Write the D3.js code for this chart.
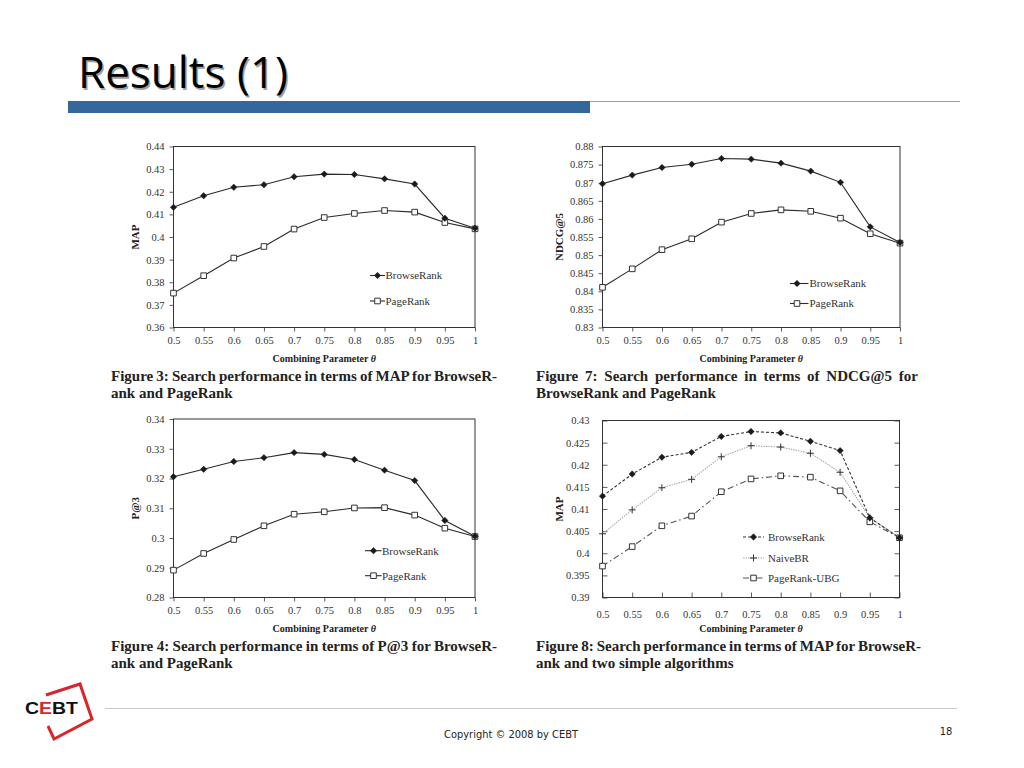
<!DOCTYPE html>
<html><head><meta charset="utf-8">
<script src="https://cdn.jsdelivr.net/npm/d3@7"></script>
<style>body{margin:0;background:#fff;} svg{display:block}</style>
</head><body><svg id="slide" width="1024" height="768"></svg>
<script>
// ---------- data ----------
const thetas = [0.5,0.55,0.6,0.65,0.7,0.75,0.8,0.85,0.9,0.95,1];
const thetaLabels = ["0.5","0.55","0.6","0.65","0.7","0.75","0.8","0.85","0.9","0.95","1"];

const fig3BrowseRank = [0.4131,0.4182,0.4220,0.4231,0.4266,0.4278,0.4276,0.4257,0.4234,0.4083,0.4039];
const fig3PageRank   = [0.3752,0.3829,0.3907,0.3958,0.4035,0.4086,0.4104,0.4117,0.4110,0.4064,0.4036];
const fig3YTicks  = [0.36,0.37,0.38,0.39,0.40,0.41,0.42,0.43,0.44];
const fig3YLabels = ["0.36","0.37","0.38","0.39","0.4","0.41","0.42","0.43","0.44"];

const fig7BrowseRank = [0.8697,0.8721,0.8742,0.8751,0.8767,0.8765,0.8754,0.8732,0.8701,0.8578,0.8535];
const fig7PageRank   = [0.8411,0.8462,0.8515,0.8545,0.8591,0.8615,0.8625,0.8621,0.8602,0.8559,0.8533];
const fig7YTicks  = [0.83,0.835,0.84,0.845,0.85,0.855,0.86,0.865,0.87,0.875,0.88];
const fig7YLabels = ["0.83","0.835","0.84","0.845","0.85","0.855","0.86","0.865","0.87","0.875","0.88"];

const fig4BrowseRank = [0.3206,0.3231,0.3257,0.3270,0.3287,0.3281,0.3264,0.3228,0.3193,0.3059,0.3006];
const fig4PageRank   = [0.2892,0.2948,0.2995,0.3041,0.3080,0.3088,0.3101,0.3102,0.3077,0.3033,0.3005];
const fig4YTicks  = [0.28,0.29,0.30,0.31,0.32,0.33,0.34];
const fig4YLabels = ["0.28","0.29","0.3","0.31","0.32","0.33","0.34"];

const fig8BrowseRank   = [0.4129,0.4179,0.4217,0.4228,0.4264,0.4275,0.4272,0.4253,0.4232,0.4080,0.4035];
const fig8NaiveBR      = [0.4044,0.4098,0.4148,0.4167,0.4218,0.4243,0.4240,0.4226,0.4183,0.4080,0.4035];
const fig8PageRankUBG  = [0.3971,0.4015,0.4062,0.4084,0.4139,0.4168,0.4175,0.4172,0.4141,0.4071,0.4035];
const fig8YTicks  = [0.39,0.395,0.40,0.405,0.41,0.415,0.42,0.425,0.43];
const fig8YLabels = ["0.39","0.395","0.4","0.405","0.41","0.415","0.42","0.425","0.43"];

const xAxisTitle = "Combining Parameter ";
const fig3Caption = ["Figure 3: Search performance in terms of MAP for BrowseR-","ank and PageRank"];
const fig7Caption = ["Figure 7:  Search performance in terms of NDCG@5 for","BrowseRank and PageRank"];
const fig4Caption = ["Figure 4: Search performance in terms of P@3 for BrowseR-","ank and PageRank"];
const fig8Caption = ["Figure 8: Search performance in terms of MAP for BrowseR-","ank and two simple algorithms"];

// ---------- drawing ----------
const svg = d3.select("#slide");
svg.append("rect").attr("width",1024).attr("height",768).attr("fill","#fff");

// Title
const titleFont = "'Liberation Sans Narrow','Open Sans',sans-serif";
svg.append("text").attr("x",79.5).attr("y",89.5).attr("fill","#a0a0a0")
  .attr("font-family",titleFont).attr("font-size",43)
  .attr("textLength",210).attr("lengthAdjust","spacingAndGlyphs").text("Results (1)");
svg.append("text").attr("x",78).attr("y",88).attr("fill","#000")
  .attr("font-family",titleFont).attr("font-size",43)
  .attr("textLength",210).attr("lengthAdjust","spacingAndGlyphs").text("Results (1)");
svg.append("rect").attr("x",68).attr("y",101).attr("width",522).attr("height",12).attr("fill","#34679a");
svg.append("line").attr("x1",590).attr("x2",960).attr("y1",101.5).attr("y2",101.5).attr("stroke","#7fa6cc").attr("stroke-width",1);

const serif = "'Liberation Serif','Times New Roman',serif";

function diamondPath(r){ return `M0,${-r}L${r},0L0,${r}L${-r},0Z`; }
function squarePath(r){ return `M${-r},${-r}H${r}V${r}H${-r}Z`; }
function plusPath(r){ return `M${-r},0H${r}M0,${-r}V${r}`; }

function drawMarker(g, type, x, y){
  if(type==="diamond") g.append("path").attr("d",diamondPath(3.2)).attr("transform",`translate(${x},${y})`).attr("fill","#1a1a1a").attr("stroke","#1a1a1a").attr("stroke-width",0.5);
  else if(type==="square") g.append("path").attr("d",squarePath(2.8)).attr("transform",`translate(${x},${y})`).attr("fill","#fff").attr("stroke","#333").attr("stroke-width",1);
  else if(type==="plus") g.append("path").attr("d",plusPath(3.5)).attr("transform",`translate(${x},${y})`).attr("fill","none").attr("stroke","#333").attr("stroke-width",1);
}

function justifyLine(textSel, target){
  const node = textSel.node();
  const natural = node.getComputedTextLength();
  const spaces = (textSel.text().match(/ /g)||[]).length;
  if(spaces>0) textSel.attr("word-spacing", (target-natural)/spaces);
}

function panel(cfg){
  const g = svg.append("g");
  const x = d3.scaleLinear().domain([thetas[0], thetas[thetas.length-1]]).range([cfg.left, cfg.right]);
  const y = d3.scaleLinear().domain([cfg.yTicks[0], cfg.yTicks[cfg.yTicks.length-1]]).range([cfg.bottom, cfg.top]);
  const inward = cfg.gnuplot;
  const yAxis = d3.axisLeft(y).tickValues(cfg.yTicks).tickFormat((d,i)=>cfg.yLabels[i])
    .tickSizeInner(inward? -5 : 4).tickSizeOuter(0).tickPadding(inward? 13 : 5);
  const ya = g.append("g").attr("transform",`translate(${cfg.left},0)`).call(yAxis);
  const xAxis = d3.axisBottom(x).tickValues(thetas).tickFormat((d,i)=>thetaLabels[i])
    .tickSizeInner(inward? -5 : 4).tickSizeOuter(0).tickPadding(inward? 13 : 5);
  const xa = g.append("g").attr("transform",`translate(0,${cfg.bottom})`).call(xAxis);
  [ya,xa].forEach(a=>{
    a.select(".domain").remove();
    a.selectAll("line").attr("stroke","#333").attr("stroke-width",0.8);
    a.selectAll("text").attr("font-family",serif).attr("font-size",10.5).attr("fill","#333");
  });
  if(inward){
    const yr = d3.axisRight(y).tickValues(cfg.yTicks).tickFormat("").tickSizeInner(-5).tickSizeOuter(0);
    const yra = g.append("g").attr("transform",`translate(${cfg.right},0)`).call(yr);
    yra.select(".domain").remove();
    yra.selectAll("line").attr("stroke","#333").attr("stroke-width",0.8);
  }
  g.append("rect").attr("x",cfg.left).attr("y",cfg.top).attr("width",cfg.right-cfg.left).attr("height",cfg.bottom-cfg.top)
    .attr("fill","none").attr("stroke","#333").attr("stroke-width",1);
  const xt = g.append("text").attr("x",(cfg.left+cfg.right)/2).attr("y",cfg.bottom+34).attr("text-anchor","middle")
    .attr("font-family",serif).attr("font-weight","bold").attr("font-size",10).attr("fill","#222");
  xt.append("tspan").text(xAxisTitle);
  xt.append("tspan").attr("font-style","italic").text("θ");
  g.append("text").attr("transform",`translate(${cfg.left-cfg.yTitleOffset},${(cfg.top+cfg.bottom)/2}) rotate(-90)`)
    .attr("text-anchor","middle").attr("dy","0.35em").attr("font-family",serif).attr("font-weight","bold")
    .attr("font-size",11).attr("fill","#222").text(cfg.yTitle);
  cfg.series.forEach(s=>{
    const line = d3.line().x((d,i)=>x(thetas[i])).y(d=>y(d));
    g.append("path").attr("d",line(s.values)).attr("fill","none").attr("stroke",s.color)
      .attr("stroke-width",s.width||1.1).attr("stroke-dasharray",s.dash||null);
  });
  cfg.series.forEach(s=>{
    s.values.forEach((v,i)=>drawMarker(g,s.marker,x(thetas[i]),y(v)));
  });
  cfg.legendOrder.forEach((si,k)=>{
    const s = cfg.series[si];
    const ly = cfg.top + cfg.legendY[k];
    g.append("line").attr("x1",cfg.left+cfg.legendX0).attr("x2",cfg.left+cfg.legendX1).attr("y1",ly).attr("y2",ly)
      .attr("stroke",s.color).attr("stroke-width",s.width||1.1).attr("stroke-dasharray",s.dash||null);
    drawMarker(g,s.marker,cfg.left+(cfg.legendXm),ly);
    g.append("text").attr("x",cfg.left+cfg.legendXt).attr("y",ly).attr("dy","0.35em")
      .attr("font-family",serif).attr("font-size",11).attr("fill","#333").text(s.name);
  });
  const c1 = g.append("text").attr("x",cfg.capX).attr("y",cfg.capY).attr("font-family",serif).attr("font-weight","bold")
    .attr("font-size",15).attr("fill","#222").text(cfg.caption[0]);
  justifyLine(c1, cfg.capW);
  g.append("text").attr("x",cfg.capX).attr("y",cfg.capY+17).attr("font-family",serif).attr("font-weight","bold")
    .attr("font-size",15).attr("fill","#222").text(cfg.caption[1]);
}

panel({left:173.5,right:475,top:146.5,bottom:327.5,yTicks:fig3YTicks,yLabels:fig3YLabels,yTitle:"MAP",yTitleOffset:38.5,
  series:[{name:"PageRank",values:fig3PageRank,marker:"square",color:"#2a2a2a"},
          {name:"BrowseRank",values:fig3BrowseRank,marker:"diamond",color:"#2a2a2a"}],
  legendOrder:[1,0],legendY:[129,154.5],legendX0:196.5,legendX1:211.5,legendXm:204,legendXt:212,
  caption:fig3Caption,capX:111,capY:381,capW:386});

panel({left:602.5,right:900,top:146.5,bottom:327.5,yTicks:fig7YTicks,yLabels:fig7YLabels,yTitle:"NDCG@5",yTitleOffset:43.5,
  series:[{name:"PageRank",values:fig7PageRank,marker:"square",color:"#2a2a2a"},
          {name:"BrowseRank",values:fig7BrowseRank,marker:"diamond",color:"#2a2a2a"}],
  legendOrder:[1,0],legendY:[137,157],legendX0:187.5,legendX1:206,legendXm:194.5,legendXt:207,
  caption:fig7Caption,capX:536,capY:381,capW:385});

panel({left:173.5,right:475,top:419,bottom:597.5,yTicks:fig4YTicks,yLabels:fig4YLabels,yTitle:"P@3",yTitleOffset:38.5,
  series:[{name:"PageRank",values:fig4PageRank,marker:"square",color:"#2a2a2a"},
          {name:"BrowseRank",values:fig4BrowseRank,marker:"diamond",color:"#2a2a2a"}],
  legendOrder:[1,0],legendY:[131.7,156.7],legendX0:191.5,legendX1:208,legendXm:200,legendXt:208.5,
  caption:fig4Caption,capX:111,capY:651,capW:386});

panel({left:602.5,right:899.5,top:420.5,bottom:597.5,gnuplot:true,yTicks:fig8YTicks,yLabels:fig8YLabels,yTitle:"MAP",yTitleOffset:43.5,
  series:[{name:"PageRank-UBG",values:fig8PageRankUBG,marker:"square",color:"#555",dash:"6,3,1.5,3"},
          {name:"NaiveBR",values:fig8NaiveBR,marker:"plus",color:"#aaa",dash:"1.5,1"},
          {name:"BrowseRank",values:fig8BrowseRank,marker:"diamond",color:"#333",dash:"3,2"}],
  legendOrder:[2,1,0],legendY:[116.5,137.5,157.5],legendX0:140.5,legendX1:161.5,legendXm:151,legendXt:165.5,
  caption:fig8Caption,capX:536,capY:651,capW:385});

// Footer
svg.append("line").attr("x1",105).attr("x2",957).attr("y1",708.5).attr("y2",708.5).attr("stroke","#c8c8c8").attr("stroke-width",1);
svg.append("text").attr("x",511).attr("y",738).attr("text-anchor","middle").attr("font-family","'DejaVu Sans Condensed','Open Sans',sans-serif")
  .attr("font-size",11).attr("textLength",134).attr("lengthAdjust","spacingAndGlyphs").attr("fill","#222").text("Copyright © 2008 by CEBT");
svg.append("text").attr("x",946).attr("y",735).attr("text-anchor","middle").attr("font-family","'DejaVu Sans Condensed','Open Sans',sans-serif")
  .attr("font-size",11).attr("fill","#222").text("18");

// Logo
const logo = svg.append("g");
logo.append("path").attr("d","M46,695 L80,684 L92,719 L54,739 L48,726").attr("fill","none").attr("stroke","#d8262c").attr("stroke-width",3).attr("stroke-linejoin","miter");
const lt = logo.append("text").attr("x",25).attr("y",714).attr("font-family","'Liberation Sans',Arial,sans-serif").attr("font-weight","bold")
  .attr("font-size",16.5).attr("textLength",53).attr("lengthAdjust","spacingAndGlyphs").attr("fill","#111");
lt.append("tspan").text("C");
lt.append("tspan").attr("fill","#d8262c").text("E");
lt.append("tspan").text("BT");
</script></body></html>
